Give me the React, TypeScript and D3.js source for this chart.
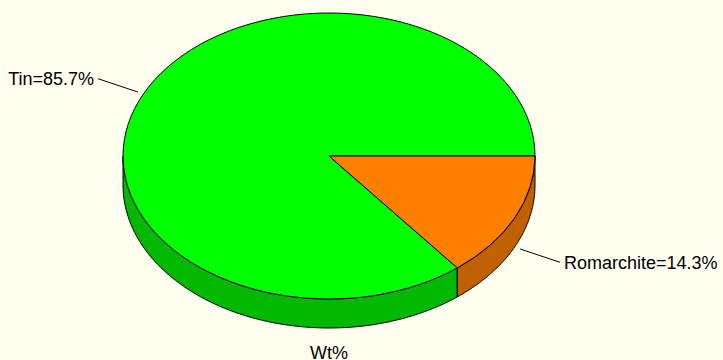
import React from "react";
import * as d3 from "d3";

const categories = ["Tin", "Romarchite"];
const values = [85.7, 14.3];
const topColors = ["#00ff00", "#ff8000"];
const sideColors = ["#00b800", "#c06000"];
const title = "Wt%";

const W = 723, H = 360;
const cx = 329, cy = 156, rx = 206, ry = 143, depth = 29;

function pt(t: number, dy = 0): [number, number] {
  return [cx + rx * Math.cos(t), cy + ry * Math.sin(t) + dy];
}

export default function App() {
  const pie = d3.pie<number>().sort(null).value((d) => d);
  const arcs = pie(values);
  // screen angle = -pie angle (counterclockwise from east)
  const slices = arcs.map((a, i) => {
    let s0 = -a.endAngle, s1 = -a.startAngle;
    while (s0 < 0) { s0 += 2 * Math.PI; s1 += 2 * Math.PI; }
    return { i, s0, s1, mid: -(a.startAngle + a.endAngle) / 2 };
  });
  const lineGen = d3.line();

  const sides: JSX.Element[] = [];
  slices.forEach((s) => {
    for (const off of [0, 2 * Math.PI, -2 * Math.PI]) {
      const a0 = Math.max(s.s0 + off, 0);
      const a1 = Math.min(s.s1 + off, Math.PI);
      if (a1 > a0) {
        const n = 80;
        const ts = d3.range(n + 1).map((k) => a0 + ((a1 - a0) * k) / n);
        const pts: [number, number][] = [
          ...ts.map((t) => pt(t)),
          ...ts.slice().reverse().map((t) => pt(t, depth)),
        ];
        sides.push(
          <path key={`s${s.i}${off}`} d={lineGen(pts) + "Z"} fill={sideColors[s.i]} stroke="#000" strokeWidth={1} strokeLinejoin="round" />
        );
      }
    }
  });

  const tops = slices.map((s) => {
    const p0 = pt(s.s0), p1 = pt(s.s1);
    const large = s.s1 - s.s0 > Math.PI ? 1 : 0;
    const d = `M${cx},${cy}L${p0[0]},${p0[1]}A${rx},${ry} 0 ${large} 1 ${p1[0]},${p1[1]}Z`;
    return <path key={`t${s.i}`} d={d} fill={topColors[s.i]} stroke="#000" strokeWidth={1} strokeLinejoin="round" />;
  });

  const labels = slices.map((s) => {
    const c = Math.cos(s.mid), sn = Math.sin(s.mid);
    const vx = rx * c, vy = ry * sn;
    const len = Math.hypot(vx, vy);
    const ux = vx / len, uy = vy / len;
    const sx = cx + 1.03 * vx, sy = cy + 1.03 * vy + (sn > 0 ? depth : 0);
    const ex = sx + 42 * ux, ey = sy + 42 * uy;
    const right = c >= 0;
    const pct = d3.format(".1f")((values[s.i] / d3.sum(values)) * 100);
    return (
      <g key={`l${s.i}`}>
        <line x1={sx} y1={sy} x2={ex} y2={ey} stroke="#000" strokeWidth={1} />
        <text x={right ? ex + 4 : ex - 4} y={ey} dy="0.36em" textAnchor={right ? "start" : "end"}
          fontFamily="'Liberation Sans', Arial, sans-serif" fontSize={18} fill="#000">
          {`${categories[s.i]}=${pct}%`}
        </text>
      </g>
    );
  });

  return (
    <div style={{ position: "absolute", left: 0, top: 0 }}>
      <svg width={W} height={H} style={{ display: "block" }}>
        <rect x={0} y={0} width={W} height={H} fill="#fffff0" />
        {sides}
        {tops}
        {labels}
        <text x={cx} y={359} textAnchor="middle" fontFamily="'Liberation Sans', Arial, sans-serif" fontSize={18} fill="#000">
          {title}
        </text>
      </svg>
    </div>
  );
}
